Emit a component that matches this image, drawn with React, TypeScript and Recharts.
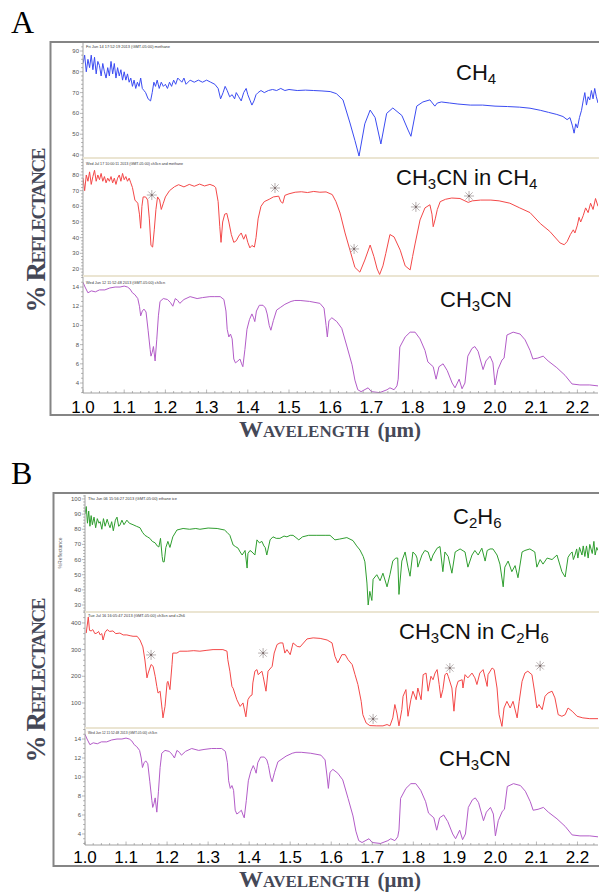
import React from "react";
import { ComposedChart, Line, Scatter, XAxis, YAxis } from "recharts";

// ---------- DATA ----------
// Panel A1: CH4 (wavelength µm, % reflectance)
const ch4Wl = [
  1.000, 1.004, 1.008, 1.012, 1.016, 1.020, 1.024, 1.028, 1.032, 1.036,
  1.040, 1.044, 1.048, 1.052, 1.056, 1.060, 1.064, 1.068, 1.072, 1.076,
  1.080, 1.084, 1.088, 1.092, 1.096, 1.100, 1.104, 1.108, 1.112, 1.116,
  1.120, 1.124, 1.128, 1.132, 1.136, 1.140, 1.144, 1.148, 1.152,
  1.158, 1.164, 1.168, 1.172, 1.176, 1.180,
  1.185, 1.190, 1.195, 1.200, 1.205, 1.210, 1.215, 1.220, 1.225, 1.230,
  1.240, 1.245, 1.250, 1.260, 1.270, 1.280, 1.290, 1.300, 1.310, 1.320,
  1.328, 1.334, 1.340, 1.345, 1.350, 1.356, 1.362, 1.368, 1.372, 1.378,
  1.384, 1.390, 1.396, 1.400, 1.406, 1.410, 1.415, 1.420, 1.425, 1.432,
  1.440, 1.450, 1.460, 1.470, 1.480, 1.490, 1.500, 1.520, 1.540, 1.560,
  1.580, 1.600, 1.615, 1.631, 1.648, 1.660, 1.670, 1.684, 1.697, 1.709,
  1.723, 1.737, 1.752, 1.774, 1.789, 1.796, 1.810, 1.825, 1.842, 1.848,
  1.854, 1.860, 1.870, 1.890, 1.910, 1.940, 1.970, 2.000, 2.030, 2.060,
  2.085, 2.110, 2.130, 2.150, 2.165, 2.175, 2.182, 2.188, 2.192, 2.196,
  2.200, 2.205, 2.210, 2.214, 2.218, 2.222, 2.226, 2.230, 2.234, 2.238,
  2.242, 2.246, 2.250,
];
const ch4Val = [
  84, 88, 80, 86, 82, 88, 81, 87, 79, 85,
  83, 78, 84, 80, 77, 82, 78, 85, 79, 84,
  77, 82, 78, 81, 76, 80, 76, 79, 75, 77,
  73, 76, 72, 75, 73, 77, 72, 71, 70,
  67, 66, 70, 75, 73, 76,
  72, 75, 73, 74, 72, 75, 73, 76, 74, 77,
  75, 77, 74, 76, 75, 76, 75, 76, 75, 74,
  72, 67, 70, 73, 71, 68, 69, 67, 70, 68,
  66, 70, 72, 69, 66, 64, 66, 69, 70, 71,
  70, 71, 71.5, 71, 72, 71, 71.5, 71, 71.2, 71,
  70.8, 70.5, 69.5, 66.5, 55.4, 47, 39.5, 55, 61.6, 58,
  45.3, 60, 62.6, 59, 52, 49, 63.5, 65.5, 66.5, 65,
  63.5, 65, 65.5, 65, 64.5, 64, 64, 63.5, 63.3, 63,
  62.5, 61.5, 60.5, 59.5, 58.5, 57, 58, 54, 50.5, 55,
  53, 58, 61.5, 66, 70, 64, 68, 66.5, 71, 67,
  72, 68, 65,
];

// Panel A2: CH3CN in CH4
const mixCh4Wl = [
  1.000, 1.004, 1.008, 1.012, 1.016, 1.020, 1.024, 1.028, 1.032, 1.036,
  1.040, 1.044, 1.048, 1.052, 1.056, 1.060, 1.064, 1.068, 1.072, 1.076,
  1.080, 1.084, 1.088, 1.092, 1.096, 1.100, 1.104, 1.108, 1.112, 1.116,
  1.120, 1.126, 1.133, 1.137, 1.140, 1.143, 1.146, 1.152, 1.157, 1.161,
  1.165, 1.169, 1.173, 1.177, 1.181, 1.186, 1.190, 1.195, 1.200, 1.210,
  1.222, 1.232, 1.245, 1.258, 1.270, 1.283, 1.295, 1.308, 1.318, 1.322,
  1.328, 1.332, 1.335, 1.339, 1.344, 1.349, 1.354, 1.360, 1.366, 1.372,
  1.378, 1.384, 1.390, 1.395, 1.400, 1.405, 1.410, 1.416, 1.420, 1.425,
  1.432, 1.440, 1.452, 1.462, 1.475, 1.480, 1.485, 1.490, 1.500, 1.515,
  1.530, 1.545, 1.560, 1.575, 1.590, 1.605, 1.614, 1.624, 1.636, 1.648,
  1.660, 1.672, 1.684, 1.697, 1.706, 1.714, 1.720, 1.728, 1.735, 1.745,
  1.755, 1.770, 1.782, 1.794, 1.800, 1.806, 1.818, 1.830, 1.842, 1.847,
  1.850, 1.855, 1.860, 1.867, 1.880, 1.895, 1.915, 1.935, 1.945, 1.965,
  1.990, 2.010, 2.036, 2.060, 2.085, 2.110, 2.133, 2.158, 2.168, 2.175,
  2.183, 2.190, 2.194, 2.200, 2.204, 2.208, 2.214, 2.220, 2.226, 2.232,
  2.238, 2.244, 2.250,
];
const mixCh4Val = [
  78, 70, 80, 76, 82, 74, 79, 83, 76, 80,
  77, 81, 76, 79, 75, 78, 76, 79, 75, 78,
  74, 78, 80, 76, 81, 77, 79, 76, 78, 75,
  72, 64, 62, 55, 46, 60, 66, 66, 64, 52,
  35, 34, 45, 58, 66, 64, 58, 62, 66, 70,
  72.5, 73.8, 72.4, 74, 72.8, 74.2, 73, 74, 73, 72,
  63, 47, 37, 50, 55, 55.5, 50, 42, 37, 38,
  41, 43, 39, 42, 37, 33.5, 35, 34, 40, 52,
  60, 63, 64.5, 66, 66.5, 63, 62, 67, 68, 69,
  69.3, 68.8, 69.5, 69, 69.2, 67.5, 63, 55.7, 43, 32,
  21, 18, 25.7, 35.3, 28, 20, 16.5, 22, 30, 42,
  40.5, 32, 22, 19.4, 28, 36, 51.3, 59, 61, 55,
  47, 52, 58, 63, 64.5, 65.3, 65, 62.5, 63.5, 64,
  64, 63.5, 62, 59, 56, 49, 44, 36.6, 35.5, 37.5,
  42, 45, 43, 48, 53, 50, 54, 59, 56, 62,
  58, 65, 60,
];
const mixCh4StarWl = [1.167, 1.466, 1.658, 1.808, 1.937];
const mixCh4StarVal = [67.2, 71.7, 32.8, 59.6, 66.6];

// Panels A3 / B3: CH3CN
const ch3cnWl = [
  1.000, 1.005, 1.012, 1.020, 1.030, 1.040, 1.053, 1.065, 1.078, 1.090,
  1.100, 1.108, 1.114, 1.120, 1.126, 1.133, 1.137, 1.140, 1.144, 1.148,
  1.153, 1.158, 1.163, 1.165, 1.168, 1.171, 1.175, 1.179, 1.183, 1.187,
  1.195, 1.205, 1.212, 1.218, 1.224, 1.230, 1.235, 1.245, 1.260, 1.277,
  1.290, 1.308, 1.320, 1.333, 1.342, 1.347, 1.350, 1.354, 1.358, 1.362,
  1.366, 1.370, 1.376, 1.381, 1.385, 1.388, 1.393, 1.398, 1.404, 1.410,
  1.414, 1.417, 1.421, 1.428, 1.437, 1.443, 1.447, 1.452, 1.456, 1.462,
  1.470, 1.480, 1.490, 1.505, 1.514, 1.527, 1.550, 1.575, 1.585, 1.590,
  1.593, 1.597, 1.604, 1.616, 1.628, 1.641, 1.653, 1.660, 1.667, 1.675,
  1.692, 1.700, 1.720, 1.738, 1.745, 1.755, 1.762, 1.765, 1.769, 1.782,
  1.794, 1.806, 1.818, 1.830, 1.837, 1.850, 1.857, 1.864, 1.874, 1.884,
  1.896, 1.903, 1.913, 1.920, 1.927, 1.934, 1.944, 1.951, 1.959, 1.971,
  1.978, 1.988, 1.995, 2.000, 2.007, 2.017, 2.022, 2.029, 2.044, 2.061,
  2.073, 2.085, 2.092, 2.104, 2.117, 2.129, 2.150, 2.170, 2.187, 2.206,
  2.230, 2.250,
];
const ch3cnVal = [
  14.5, 14.0, 13.4, 13.6, 13.5, 13.7, 13.7, 13.9, 14.0, 14.0,
  14.1, 14.0, 13.8, 13.4, 13.2, 12.8, 12.0, 11.0, 11.5, 11.7,
  11.4, 9.5, 7.5, 6.8, 7.2, 7.8, 6.3, 8.5, 11.0, 12.5,
  12.8, 12.7, 12.4, 12.0, 12.8, 12.6, 12.3, 12.7, 13.0, 12.8,
  12.9, 13.0, 13.0, 13.0, 12.7, 11.5, 9.6, 8.8, 9.1, 8.6,
  6.5, 6.1, 6.3, 6.5, 6.0, 5.7, 7.5, 9.6, 10.6, 11.2,
  10.8, 10.4, 11.5, 12.1, 12.1, 11.8, 11.2, 10.0, 9.5, 10.5,
  11.6, 11.9, 12.2, 12.5, 12.6, 12.6, 12.5, 12.3, 11.8, 10.0,
  8.8, 10.5, 10.8, 10.4, 9.7, 7.75, 5.9, 4.3, 3.3, 3.1,
  3.5, 3.1, 3.0, 3.3, 3.5, 3.3, 3.7, 4.4, 7.75, 8.8,
  9.3, 9.3, 8.6, 7.4, 6.2, 5.7, 4.4, 5.7, 6.0, 5.3,
  4.0, 3.5, 4.4, 3.4, 4.0, 6.8, 7.6, 7.8, 7.3, 5.4,
  6.3, 6.8, 6.1, 3.8, 5.4, 6.4, 6.6, 9.0, 9.3, 9.1,
  8.5, 7.4, 6.5, 6.6, 6.8, 6.3, 5.6, 4.8, 3.9, 3.8,
  3.8, 3.7,
];

// Panel B1: C2H6
const c2h6Wl = [
  1.000, 1.003, 1.006, 1.009, 1.012, 1.015, 1.018, 1.022, 1.026, 1.030,
  1.034, 1.037, 1.041, 1.045, 1.049, 1.054, 1.058, 1.061, 1.065, 1.069,
  1.074, 1.078, 1.082, 1.085, 1.090, 1.095, 1.102, 1.108, 1.117, 1.125,
  1.134, 1.140, 1.146, 1.152, 1.158, 1.164, 1.171, 1.176, 1.180, 1.184,
  1.188, 1.190, 1.193, 1.197, 1.202, 1.207, 1.214, 1.224, 1.239, 1.255,
  1.270, 1.280, 1.300, 1.322, 1.340, 1.346, 1.353, 1.361, 1.367, 1.373,
  1.378, 1.383, 1.390, 1.395, 1.397, 1.402, 1.407, 1.414, 1.419, 1.425,
  1.431, 1.436, 1.439, 1.443, 1.451, 1.458, 1.466, 1.475, 1.485, 1.492,
  1.500, 1.507, 1.514, 1.521, 1.530, 1.545, 1.565, 1.585, 1.597, 1.609,
  1.620, 1.638, 1.653, 1.662, 1.670, 1.678, 1.682, 1.687, 1.690, 1.694,
  1.699, 1.702, 1.711, 1.719, 1.726, 1.736, 1.743, 1.750, 1.757, 1.762,
  1.765, 1.772, 1.780, 1.787, 1.792, 1.799, 1.806, 1.809, 1.811, 1.821,
  1.828, 1.836, 1.843, 1.848, 1.858, 1.865, 1.872, 1.877, 1.885, 1.894,
  1.902, 1.914, 1.926, 1.933, 1.943, 1.950, 1.958, 1.967, 1.975, 1.980,
  1.987, 1.994, 2.004, 2.011, 2.019, 2.023, 2.031, 2.040, 2.048, 2.055,
  2.065, 2.072, 2.084, 2.096, 2.101, 2.109, 2.116, 2.126, 2.138, 2.150,
  2.162, 2.170, 2.177, 2.183, 2.187, 2.190, 2.194, 2.198, 2.201, 2.205,
  2.211, 2.214, 2.218, 2.222, 2.226, 2.230, 2.236, 2.240, 2.243, 2.247,
  2.250,
];
const c2h6Val = [
  90, 95, 84, 92, 82, 89, 83, 88, 81, 87,
  84, 85, 80, 87, 82, 86.6, 83, 81, 85, 79,
  86, 88, 82, 82.6, 86, 83, 86, 84, 83, 82,
  81, 78, 76, 75, 74, 72, 71, 69, 68.3, 74,
  62, 58.5, 58.5, 68, 72, 68, 75, 79.5, 80.5, 80,
  80.5, 80, 80.8, 80.5, 79.5, 78, 76, 69.6, 68.5, 67.5,
  65, 63, 66, 54.4, 64, 66, 65, 63, 73, 71,
  72, 69, 68, 63, 73, 75, 74, 74, 75.5, 75,
  76, 76, 74.5, 73, 75, 76, 76, 76, 76, 73,
  73.5, 74.5, 72.5, 69, 66.3, 62, 58.5, 44.5, 30, 39,
  33, 47, 50, 46, 51, 42, 50, 59, 61, 61,
  37, 59, 65, 55, 49, 65, 63, 61, 55, 63,
  66, 65, 59, 63, 67.5, 68.6, 52, 65, 62, 51,
  65, 67, 65, 55, 63, 66, 63, 67.5, 59, 66,
  67, 67, 63, 57, 42, 55, 59, 52, 56, 48,
  65, 66, 67, 65, 55, 60, 57, 61, 60, 63,
  52, 48.5, 61.5, 64, 65, 60, 63, 67, 61, 68,
  63, 69, 62, 69, 61, 70, 64, 72, 63, 68,
  66,
];

// Panel B2: CH3CN in C2H6
const mixC2h6Wl = [
  1.003, 1.008, 1.011, 1.015, 1.019, 1.024, 1.029, 1.033, 1.037, 1.041,
  1.044, 1.049, 1.054, 1.060, 1.068, 1.075, 1.085, 1.093, 1.102, 1.110,
  1.117, 1.127, 1.134, 1.141, 1.146, 1.151, 1.154, 1.161, 1.166, 1.171,
  1.175, 1.178, 1.183, 1.188, 1.190, 1.195, 1.200, 1.202, 1.207, 1.212,
  1.214, 1.224, 1.231, 1.249, 1.265, 1.280, 1.295, 1.312, 1.336, 1.346,
  1.348, 1.353, 1.358, 1.361, 1.370, 1.378, 1.385, 1.392, 1.397, 1.402,
  1.407, 1.409, 1.414, 1.419, 1.422, 1.431, 1.434, 1.441, 1.446, 1.456,
  1.461, 1.468, 1.475, 1.482, 1.487, 1.492, 1.500, 1.507, 1.517, 1.524,
  1.541, 1.556, 1.573, 1.590, 1.602, 1.609, 1.616, 1.626, 1.634, 1.641,
  1.651, 1.658, 1.665, 1.673, 1.677, 1.685, 1.694, 1.711, 1.726, 1.736,
  1.743, 1.750, 1.755, 1.760, 1.765, 1.772, 1.775, 1.782, 1.787, 1.794,
  1.799, 1.807, 1.811, 1.819, 1.824, 1.831, 1.836, 1.843, 1.848, 1.853,
  1.858, 1.863, 1.867, 1.872, 1.877, 1.882, 1.885, 1.894, 1.899, 1.904,
  1.909, 1.919, 1.921, 1.926, 1.933, 1.943, 1.950, 1.955, 1.962, 1.970,
  1.975, 1.980, 1.982, 1.992, 1.997, 2.004, 2.009, 2.016, 2.021, 2.028,
  2.036, 2.043, 2.053, 2.058, 2.065, 2.072, 2.079, 2.089, 2.096, 2.101,
  2.106, 2.114, 2.121, 2.128, 2.138, 2.145, 2.153, 2.162, 2.170, 2.177,
  2.187, 2.199, 2.213, 2.230, 2.250,
];
const mixC2h6Val = [
  362, 422, 372, 370, 375, 360, 362, 368, 355, 360,
  336, 365, 375, 368, 370, 360, 362, 355, 355, 352,
  350, 350, 336, 310, 261, 194, 212, 244, 237, 200,
  162, 137, 144, 75, 44, 87, 175, 181, 150, 244,
  287, 287, 294, 294, 296, 294, 297, 300, 300, 294,
  262, 219, 162, 155, 112, 87, 100, 48, 112, 125,
  130, 175, 219, 225, 206, 219, 200, 144, 219, 237,
  287, 319, 325, 325, 287, 300, 281, 325, 312, 310,
  340, 344, 342, 336, 325, 275, 250, 281, 281, 262,
  244, 206, 169, 106, 56, 25, 15, 14, 14, 19,
  14, 44, 94, 62, 14, 75, 125, 150, 50, 112,
  144, 112, 156, 112, 206, 212, 144, 200, 187, 212,
  225, 169, 119, 150, 206, 212, 200, 156, 69, 156,
  181, 187, 156, 206, 194, 212, 194, 169, 212, 225,
  194, 162, 206, 231, 225, 156, 56, 12, 81, 106,
  81, 106, 44, 106, 181, 212, 219, 206, 137, 81,
  94, 75, 125, 137, 144, 119, 56, 50, 56, 81,
  69, 50, 44, 41, 41,
];
const mixC2h6StarWl = [1.161, 1.434, 1.702, 1.889, 2.109];
const mixC2h6StarVal = [280, 287, 40, 231, 239];

// Tick labels
const xMajorTicks = [1.0, 1.1, 1.2, 1.3, 1.4, 1.5, 1.6, 1.7, 1.8, 1.9, 2.0, 2.1, 2.2];
const ch4Ticks = [40, 50, 60, 70, 80, 90];
const mixCh4Ticks = [20, 30, 40, 50, 60, 70, 80];
const ch3cnTicks = [4, 6, 8, 10, 12, 14];
const c2h6Ticks = [30, 40, 50, 60, 70, 80, 90, 100];
const mixC2h6Ticks = [100, 200, 300, 400];

// ---------- RENDERING ----------
const X_DOMAIN: [number, number] = [1.0, 2.25];
const SANS = "'Liberation Sans', Arial, Helvetica, sans-serif";
const SERIF = "'Liberation Serif', 'Times New Roman', Times, serif";

const xAllTicks: number[] = (() => {
  const out: number[] = [];
  for (let i = 0; i <= 62; i++) out.push(Math.round((1 + i * 0.02) * 100) / 100);
  return out;
})();

const Star = (p: any) => {
  const { cx, cy } = p;
  if (cx == null || cy == null) return <g />;
  const r = 5;
  const d = r * 0.72;
  const st = { stroke: "#a39a9a", strokeWidth: 0.8 };
  return (
    <g>
      <line x1={cx - r} y1={cy} x2={cx + r} y2={cy} {...st} />
      <line x1={cx} y1={cy - r} x2={cx} y2={cy + r} {...st} />
      <line x1={cx - d} y1={cy - d} x2={cx + d} y2={cy + d} {...st} />
      <line x1={cx - d} y1={cy + d} x2={cx + d} y2={cy - d} {...st} />
      <circle cx={cx} cy={cy} r={1.1} fill="#7a6a6a" />
    </g>
  );
};

type PanelProps = {
  wl: number[];
  val: number[];
  color: string;
  left: number;
  top: number;
  height: number;
  domain: [number, number];
  major: number[];
  minorStep: number;
  axisBottom?: boolean;
  labelOffset?: number;
  starWl?: number[];
  starVal?: number[];
};

function Panel(p: PanelProps) {
  const data = p.wl.map((w, i) => ({ w, v: p.val[i] }));
  const stars = p.starWl ? p.starWl.map((w, i) => ({ w, v: (p.starVal as number[])[i] })) : null;
  const minor: number[] = [];
  const start = Math.ceil(p.domain[0] / p.minorStep) * p.minorStep;
  for (let t = start; t <= p.domain[1] + 1e-9; t += p.minorStep) minor.push(Math.round(t * 1000) / 1000);
  const yTicks = Array.from(new Set([...minor, ...p.major])).sort((a, b) => a - b);
  const isMajorY = (v: number) => p.major.some((m) => Math.abs(m - v) < 1e-6);
  const xH = p.axisBottom ? 40 : 0;
  const L = p.left;

  const YTick = (tp: any) => {
    const { y, payload } = tp;
    const v = payload.value as number;
    const maj = isMajorY(v);
    return (
      <g>
        <line x1={L - (maj ? 3 : 2)} x2={L} y1={y} y2={y} stroke="#8a8a8a" strokeWidth={0.6} />
        {maj && (
          <text x={L - 4} y={y + 2} textAnchor="end" fontSize={6} fill="#555" fontFamily={SANS}>
            {String(v)}
          </text>
        )}
      </g>
    );
  };

  const XTick = (tp: any) => {
    const { x, payload } = tp;
    const v = payload.value as number;
    const maj = xMajorTicks.some((m) => Math.abs(m - v) < 1e-6);
    const ay = p.height;
    return (
      <g>
        <line x1={x} x2={x} y1={ay} y2={ay - (maj ? 3.5 : 2)} stroke="#8a8a8a" strokeWidth={0.6} />
        {maj && (
          <text x={x} y={ay + (p.labelOffset || 20)} textAnchor="middle" fontSize={17} fill="#000" fontFamily={SANS}>
            {v.toFixed(1)}
          </text>
        )}
      </g>
    );
  };

  return (
    <div style={{ position: "absolute", left: 0, top: p.top }}>
      <ComposedChart width={599} height={p.height + xH} margin={{ top: 0, right: 1, bottom: 0, left: 0 }}>
        <XAxis
          type="number"
          dataKey="w"
          domain={X_DOMAIN}
          allowDataOverflow
          ticks={xAllTicks}
          interval={0}
          hide={!p.axisBottom}
          height={xH}
          axisLine={{ stroke: "#a0a0a0" }}
          tickLine={false}
          tick={XTick}
        />
        <YAxis
          type="number"
          domain={p.domain}
          allowDataOverflow
          ticks={yTicks}
          interval={0}
          width={L}
          axisLine={{ stroke: "#a0a0a0" }}
          tickLine={false}
          tick={YTick}
        />
        <Line
          data={data}
          dataKey="v"
          stroke={p.color}
          strokeWidth={1}
          dot={false}
          isAnimationActive={false}
        />
        {stars && <Scatter data={stars} dataKey="v" shape={Star} isAnimationActive={false} />}
      </ComposedChart>
    </div>
  );
}

function Formula({ x, y, parts }: { x: number; y: number; parts: [string, boolean][] }) {
  let shift = 0;
  return (
    <text x={x} y={y} fontFamily={SANS} fontSize={22} fill="#111">
      {parts.map(([t, sub], i) => {
        const dy = sub ? 4 - shift : -shift;
        shift = sub ? 4 : 0;
        return (
          <tspan key={i} dy={dy} fontSize={sub ? 15 : 22}>
            {t}
          </tspan>
        );
      })}
    </text>
  );
}

function XTitle({ y }: { y: number }) {
  return (
    <text x={330} y={y} textAnchor="middle" fontFamily={SERIF} fontWeight="bold" fontSize={24}
      fill="#454857">
      <tspan style={{ fontVariant: "small-caps" }}>Wavelength</tspan>
      <tspan dx={8} fontSize={21}>(μm)</tspan>
    </text>
  );
}

export default function App() {
  const labelColor = "#454857";
  return (
    <div
      style={{
        position: "absolute",
        left: 0,
        top: 0,
        width: 599,
        height: 894,
        overflow: "hidden",
        background: "#fff",
      }}
    >
      {/* Figure A */}
      <Panel wl={ch4Wl} val={ch4Val} color="#3b4cf2" left={83} top={43} height={115}
        domain={[38.56, 93.85]} major={ch4Ticks} minorStep={2} />
      <Panel wl={mixCh4Wl} val={mixCh4Val} color="#f44848" left={83} top={158} height={118}
        domain={[15.53, 90.85]} major={mixCh4Ticks} minorStep={2}
        starWl={mixCh4StarWl} starVal={mixCh4StarVal} />
      <Panel wl={ch3cnWl} val={ch3cnVal} color="#b35cc8" left={83} top={276} height={117}
        domain={[2.96, 15.15]} major={ch3cnTicks} minorStep={0.5} axisBottom labelOffset={20} />

      {/* Figure B */}
      <Panel wl={c2h6Wl} val={c2h6Val} color="#2f9e2f" left={85} top={495} height={117}
        domain={[25.4, 102.6]} major={c2h6Ticks} minorStep={2} />
      <Panel wl={mixC2h6Wl} val={mixC2h6Val} color="#f44848" left={85} top={612} height={116}
        domain={[6, 441]} major={mixC2h6Ticks} minorStep={20}
        starWl={mixC2h6StarWl} starVal={mixC2h6StarVal} />
      <Panel wl={ch3cnWl} val={ch3cnVal} color="#b35cc8" left={85} top={728} height={117}
        domain={[2.84, 15.16]} major={ch3cnTicks} minorStep={0.5} axisBottom labelOffset={18} />

      <svg
        width={599}
        height={894}
        style={{ position: "absolute", left: 0, top: 0, pointerEvents: "none" }}
      >
        {/* frames */}
        <rect x={50.5} y={42} width={600} height={373} fill="none" stroke="#858585" strokeWidth={2} />
        <rect x={53.5} y={493} width={600} height={373} fill="none" stroke="#858585" strokeWidth={2} />
        {/* panel separators */}
        <line x1={83} x2={599} y1={158} y2={158} stroke="#ebe5d2" strokeWidth={2} />
        <line x1={83} x2={599} y1={276} y2={276} stroke="#ebe5d2" strokeWidth={2} />
        <line x1={85} x2={599} y1={612} y2={612} stroke="#ebe5d2" strokeWidth={2} />
        <line x1={85} x2={599} y1={728} y2={728} stroke="#ebe5d2" strokeWidth={2} />

        {/* figure letters */}
        <text x={11} y={33} fontFamily={SERIF} fontSize={32} fill="#000">A</text>
        <text x={11} y={484} fontFamily={SERIF} fontSize={32} fill="#000">B</text>

        {/* panel headers */}
        <g fontFamily={SANS} fontSize={4.3} fill="#333">
          <text x={86} y={48} textLength={84} lengthAdjust="spacingAndGlyphs">Fri Jun 14 17:52:19 2013 (GMT-05:00) methane</text>
          <text x={86} y={165} textLength={97} lengthAdjust="spacingAndGlyphs">Wed Jul 17 10:00:11 2013 (GMT-05:00) ch3cn and methane</text>
          <text x={86} y={284} textLength={79} lengthAdjust="spacingAndGlyphs">Wed Jun 12 11:52:48 2013 (GMT-05:00) ch3cn</text>
          <text x={88} y={500} textLength={89} lengthAdjust="spacingAndGlyphs">Thu Jun 06 15:56:27 2013 (GMT-05:00) ethane ice</text>
          <text x={88} y={617} textLength={97} lengthAdjust="spacingAndGlyphs">Tue Jul 16 16:05:47 2013 (GMT-05:00) ch3cn and c2h6</text>
          <text x={88} y={734} textLength={69} lengthAdjust="spacingAndGlyphs">Wed Jun 12 11:52:48 2013 (GMT-05:00) ch3cn</text>
        </g>
        <text transform="translate(62,553) rotate(-90)" textAnchor="middle" fontFamily={SANS} fontSize={5} fill="#666">%Reflectance</text>

        {/* formulas */}
        <Formula x={456} y={80} parts={[["CH", false], ["4", true]]} />
        <Formula x={396} y={185} parts={[["CH", false], ["3", true], ["CN in CH", false], ["4", true]]} />
        <Formula x={440} y={307} parts={[["CH", false], ["3", true], ["CN", false]]} />
        <Formula x={453} y={524} parts={[["C", false], ["2", true], ["H", false], ["6", true]]} />
        <Formula x={399} y={639} parts={[["CH", false], ["3", true], ["CN in C", false], ["2", true], ["H", false], ["6", true]]} />
        <Formula x={439} y={766} parts={[["CH", false], ["3", true], ["CN", false]]} />

        {/* axis titles */}
        <text transform="translate(45,230) rotate(-90)" textAnchor="middle" fontFamily={SERIF} fontWeight="bold"
          fontSize={27} fill={labelColor} style={{ fontVariant: "small-caps" }} textLength={165} lengthAdjust="spacing">
          % Reflectance
        </text>
        <text transform="translate(45,680) rotate(-90)" textAnchor="middle" fontFamily={SERIF} fontWeight="bold"
          fontSize={27} fill={labelColor} style={{ fontVariant: "small-caps" }} textLength={165} lengthAdjust="spacing">
          % Reflectance
        </text>
        <XTitle y={437} />
        <XTitle y={887} />
      </svg>
    </div>
  );
}
